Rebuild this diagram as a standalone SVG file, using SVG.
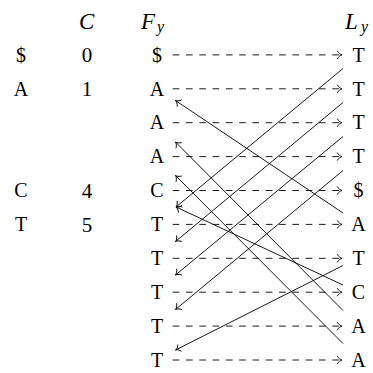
<svg xmlns="http://www.w3.org/2000/svg" width="373" height="373" viewBox="0 0 373 373">
<style>
.tt{font-family:"Liberation Serif","DejaVu Serif",serif;font-size:20px;fill:#000;text-anchor:middle}
.rm{font-family:"Liberation Serif","DejaVu Serif",serif;font-size:21px;fill:#000;text-anchor:middle}
.it{font-family:"Liberation Serif","DejaVu Serif",serif;font-size:23px;font-style:italic;fill:#000}
.sub{font-family:"Liberation Serif","DejaVu Serif",serif;font-size:16px;font-style:italic;fill:#000}
.dash{stroke:#000;stroke-width:0.9;fill:none;stroke-dasharray:6.6 6.7;marker-end:url(#ah)}
.solid{stroke:#000;stroke-width:0.9;fill:none;marker-end:url(#ah)}
</style>
<defs>
<marker id="ah" markerUnits="userSpaceOnUse" viewBox="-6 -5 8 10" refX="0" refY="0" markerWidth="8" markerHeight="10" orient="auto" overflow="visible">
<path d="M-4.6,-3.7 C-3.6,-1.6 -1.2,-0.3 0,0 C-1.2,0.3 -3.6,1.6 -4.6,3.7" fill="none" stroke="#000" stroke-width="0.9" stroke-linecap="round"/>
</marker>
</defs>
<g id="headers">
<g id="hdr-C"><text class="it" x="79" y="29">C</text></g>
<g id="hdr-F"><text class="it" x="141" y="29">F</text><text class="sub" x="157" y="32">y</text></g>
<g id="hdr-L"><text class="it" x="345" y="29">L</text><text class="sub" x="361" y="32">y</text></g>
</g>
<g id="alphabet">
<g id="a-dollar"><text class="tt" x="21" y="61.6">$</text><text class="rm" x="87" y="62">0</text></g>
<g id="a-A"><text class="tt" x="21" y="95.5">A</text><text class="rm" x="87" y="95.9">1</text></g>
<g id="a-C"><text class="tt" x="21" y="197.2">C</text><text class="rm" x="87" y="197.6">4</text></g>
<g id="a-T"><text class="tt" x="21" y="231.1">T</text><text class="rm" x="87" y="231.5">5</text></g>
</g>
<g id="F">
<g id="F0"><text class="tt" x="157" y="61.6">$</text></g>
<g id="F1"><text class="tt" x="157" y="95.5">A</text></g>
<g id="F2"><text class="tt" x="157" y="129.4">A</text></g>
<g id="F3"><text class="tt" x="157" y="163.3">A</text></g>
<g id="F4"><text class="tt" x="157" y="197.2">C</text></g>
<g id="F5"><text class="tt" x="157" y="231.1">T</text></g>
<g id="F6"><text class="tt" x="157" y="265">T</text></g>
<g id="F7"><text class="tt" x="157" y="298.9">T</text></g>
<g id="F8"><text class="tt" x="157" y="332.8">T</text></g>
<g id="F9"><text class="tt" x="157" y="366.7">T</text></g>
</g>
<g id="L">
<g id="L0"><text class="tt" x="358.5" y="61.6">T</text></g>
<g id="L1"><text class="tt" x="358.5" y="95.5">T</text></g>
<g id="L2"><text class="tt" x="358.5" y="129.4">T</text></g>
<g id="L3"><text class="tt" x="358.5" y="163.3">T</text></g>
<g id="L4"><text class="tt" x="358.5" y="197.2">$</text></g>
<g id="L5"><text class="tt" x="358.5" y="231.1">A</text></g>
<g id="L6"><text class="tt" x="358.5" y="265">T</text></g>
<g id="L7"><text class="tt" x="358.5" y="298.9">C</text></g>
<g id="L8"><text class="tt" x="358.5" y="332.8">A</text></g>
<g id="L9"><text class="tt" x="358.5" y="366.7">A</text></g>
</g>
<g id="connectors">
<path class="dash" d="M172.7,54.9H342"/>
<path class="dash" d="M172.7,88.8H342"/>
<path class="dash" d="M172.7,122.7H342"/>
<path class="dash" d="M172.7,156.6H342"/>
<path class="dash" d="M172.7,190.5H342"/>
<path class="dash" d="M172.7,224.4H342"/>
<path class="dash" d="M172.7,258.3H342"/>
<path class="dash" d="M172.7,292.2H342"/>
<path class="dash" d="M172.7,326.1H342"/>
<path class="dash" d="M172.7,360H342"/>
<path class="solid" d="M343,68.5L176,207"/>
<path class="solid" d="M343,102.5L175.5,241.5"/>
<path class="solid" d="M343,136.5L175.5,275"/>
<path class="solid" d="M343,170.5L175.5,309.5"/>
<path class="solid" d="M343,213L175.5,100.5"/>
<path class="solid" d="M343,265.5L175.5,350"/>
<path class="solid" d="M343,285L176,207"/>
<path class="solid" d="M343,310.5L175.5,142"/>
<path class="solid" d="M343,343.5L175.5,175.5"/>
</g>
</svg>
